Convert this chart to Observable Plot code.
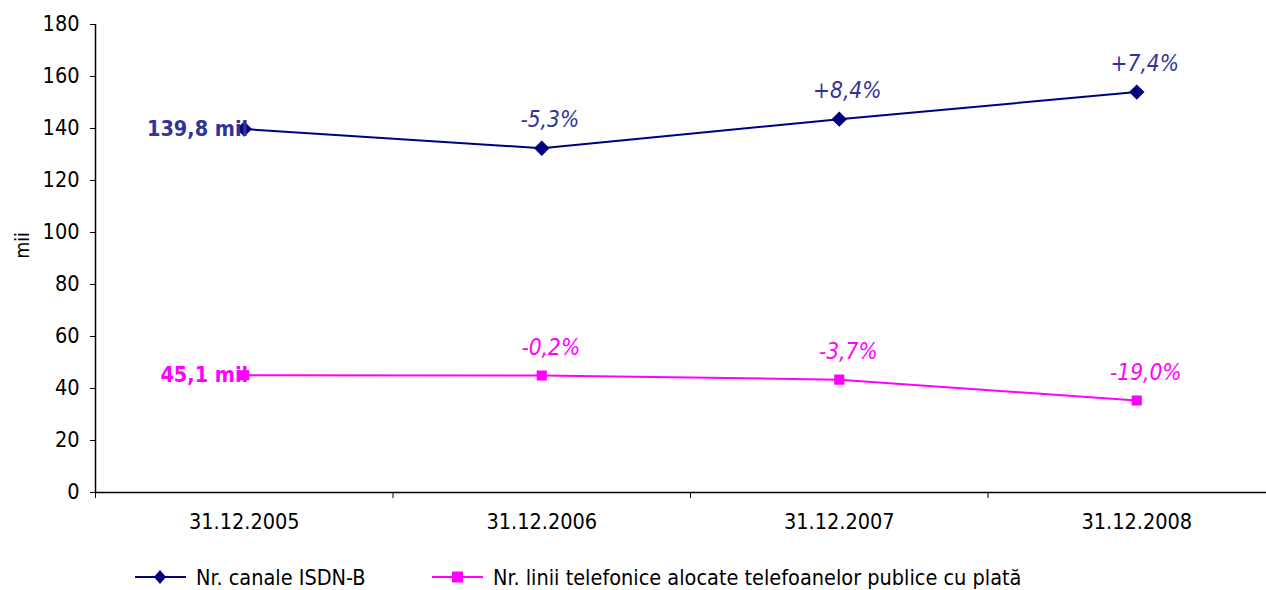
<!DOCTYPE html>
<html>
<head>
<meta charset="utf-8">
<script src="https://cdn.jsdelivr.net/npm/d3@7"></script>
<script src="https://cdn.jsdelivr.net/npm/@observablehq/plot@0.6"></script>
<style>
  html, body { margin: 0; padding: 0; background: #fff; overflow: hidden; width: 1266px; height: 590px; }
  body { font-family: "DejaVu Sans Condensed", "DejaVu Sans", sans-serif; font-stretch: condensed; position: relative; }
  #chart { position: absolute; left: 0; top: 0; width: 1290px; }
  #chart svg { max-width: none !important; width: 1290px !important; height: 542px !important; }
  .legend { position: absolute; top: 563px; left: 0; width: 1266px; height: 28px; font-size: 21.5px; color: #000; }
  .item { position: absolute; top: 0; display: flex; align-items: center; white-space: nowrap; }
  .item svg { margin-right: 10px; }
</style>
</head>
<body>
<div id="chart"></div>
<div class="legend" id="legend"></div>
<script>
const dates = ["31.12.2005", "31.12.2006", "31.12.2007", "31.12.2008"];
const isdn = [139.8, 132.4, 143.6, 154.0];
const publice = [45.1, 45.0, 43.4, 35.4];
const isdnPct = ["", "-5,3%", "+8,4%", "+7,4%"];
const publicePct = ["", "-0,2%", "-3,7%", "-19,0%"];
const startLabels = ["139,8 mil", "45,1 mil"];
const seriesNames = ["Nr. canale ISDN-B", "Nr. linii telefonice alocate telefoanelor publice cu plată"];
const yTicks = [0, 20, 40, 60, 80, 100, 120, 140, 160, 180];

const navy = "#000080", navyText = "#333399", pink = "#FF00FF";
const font = '"DejaVu Sans Condensed", "DejaVu Sans", sans-serif';
const fs = 21.5;

const A = dates.map((d, i) => ({i: i + 0.5, v: isdn[i], pct: isdnPct[i]}));
const B = dates.map((d, i) => ({i: i + 0.5, v: publice[i], pct: publicePct[i]}));

const chart = Plot.plot({
  width: 1290,
  height: 542,
  marginLeft: 95,
  marginRight: 5,
  marginTop: 24,
  marginBottom: 50,
  style: {fontFamily: font, fontSize: fs + "px", color: "#000", background: "#fff", fontStretch: "condensed"},
  x: {domain: [0, dates.length]},
  y: {domain: [0, 180]},
  marks: [
    Plot.axisY({ticks: yTicks, tickSize: 5, tickPadding: 11, label: null, fontSize: fs}),
    Plot.text(["mii"], {frameAnchor: "left", dx: -73, rotate: -90, fontSize: 19}),
    Plot.axisX({ticks: [0, 1, 2, 3, 4], tickSize: 6, tickFormat: () => "", label: null}),
    Plot.axisX({ticks: dates.map((d, i) => i + 0.5), tickSize: 0, tickPadding: 21, tickFormat: t => dates[Math.floor(t)], label: null, fontSize: fs}),
    Plot.ruleX([0], {stroke: "#000", strokeWidth: 1.5}),
    Plot.ruleY([0], {stroke: "#000", strokeWidth: 1.5}),
    Plot.line(A, {x: "i", y: "v", stroke: navy, strokeWidth: 2}),
    Plot.line(B, {x: "i", y: "v", stroke: pink, strokeWidth: 2}),
    Plot.dot(A, {x: "i", y: "v", symbol: "diamond2", r: 6, fill: navy, stroke: navy}),
    Plot.dot(B, {x: "i", y: "v", symbol: "square2", r: 5.5, fill: pink, stroke: pink}),
    Plot.text(A.slice(1), {x: "i", y: "v", text: "pct", dx: 8, dy: -28, fill: navyText, fontStyle: "italic", fontSize: 22.5}),
    Plot.text(B.slice(1), {x: "i", y: "v", text: "pct", dx: 9, dy: -28, fill: pink, fontStyle: "italic", fontSize: 22.5}),
    Plot.text([A[0]], {x: "i", y: "v", text: () => startLabels[0], textAnchor: "end", dx: 4, fill: navyText, fontWeight: "bold", fontSize: fs}),
    Plot.text([B[0]], {x: "i", y: "v", text: () => startLabels[1], textAnchor: "end", dx: 4, fill: pink, fontWeight: "bold", fontSize: fs})
  ]
});
document.getElementById("chart").appendChild(chart);

const legend = document.getElementById("legend");
const items = [
  {name: seriesNames[0], color: navy, shape: "diamond", left: 135},
  {name: seriesNames[1], color: pink, shape: "square", left: 432}
];
for (const it of items) {
  const div = document.createElement("div");
  div.className = "item";
  div.style.left = it.left + "px";
  const marker = it.shape === "diamond"
    ? `<path d="M25,7 L31,14 L25,21 L19,14 Z" fill="${it.color}"/>`
    : `<rect x="20" y="8.5" width="11" height="11" fill="${it.color}"/>`;
  div.innerHTML = `<svg width="51" height="28"><line x1="0" x2="51" y1="14" y2="14" stroke="${it.color}" stroke-width="2"/>${marker}</svg><span>${it.name}</span>`;
  legend.appendChild(div);
}
</script>
</body>
</html>
